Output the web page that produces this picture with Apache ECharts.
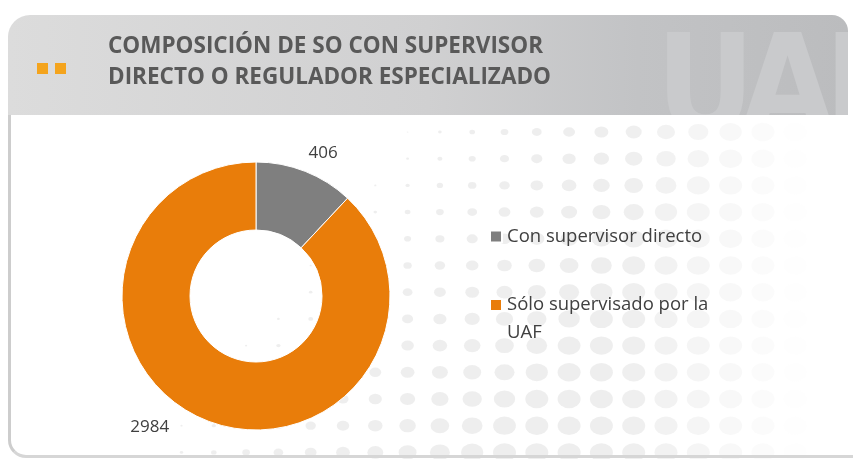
<!DOCTYPE html>
<html>
<head>
<meta charset="utf-8">
<script src="https://cdn.jsdelivr.net/npm/echarts@6/dist/echarts.min.js"></script>
<style>
  html, body { margin: 0; padding: 0; background: #fff; }
  .stage { position: relative; width: 853px; height: 459px; overflow: hidden; background: #fff; }
  .head {
    position: absolute; left: 8px; top: 15px; width: 840px; height: 100px;
    border-radius: 22px 16px 0 0; overflow: hidden;
    background: linear-gradient(to right, #dcdcdc 0%, #d0d0d1 50%, #c2c3c5 75%, #bbbcbe 100%);
  }
  .wm {
    position: absolute; left: 648px; top: 2px;
    font-family: "DejaVu Sans Condensed", "DejaVu Sans"; font-weight: bold;
    font-size: 135px; letter-spacing: -10px; color: #c9cacc; line-height: 1;
  }
  .box {
    position: absolute; left: 8px; top: 115px; width: 842px; height: 340px;
    border-left: 3px solid #cdcdcd; border-bottom: 3px solid #d6d6d6;
    border-radius: 0 0 0 18px;
  }
  .sq { position: absolute; top: 63px; width: 11px; height: 11px; background: #f4a41d; }
  #dots { position: absolute; left: 0; top: 0; }
  #main { position: absolute; left: 0; top: 0; width: 853px; height: 459px; }
</style>
</head>
<body>
<div class="stage">
  <canvas id="dots" width="853" height="459"></canvas>
  <div class="head"><div class="wm">UAF</div></div>
  <div class="box"></div>
  <div class="sq" style="left:37px"></div>
  <div class="sq" style="left:55px"></div>
  <div id="main"></div>
</div>
<script>
// datos
var titulo = "COMPOSICIÓN DE SO CON SUPERVISOR\nDIRECTO O REGULADOR ESPECIALIZADO";
var categorias = ["Con supervisor directo", "Sólo supervisado por la UAF"];
var valores = [406, 2984];
var colores = ["#7f7f7f", "#e97d0a"];

// fondo de puntos (decorativo)
(function () {
  var ctx = document.getElementById("dots").getContext("2d");
  for (var y = 132; y < 470; y += 26.7) {
    for (var x = 20; x < 853; x += 32.3) {
      var w = 0.064 * (x - 385 + 0.8 * (y - 130));
      if (w < 1.5) continue;
      if (w > 23) w = 23;
      var a = 1;
      if (x > 620) a = Math.max(0, 1 - (x - 620) / 190);
      if (a <= 0) continue;
      ctx.fillStyle = "rgba(226,226,226," + (0.6 * a) + ")";
      ctx.beginPath();
      ctx.ellipse(x, y, w / 2, w * 0.4, 0, 0, Math.PI * 2);
      ctx.fill();
    }
  }
})();

var myChart = echarts.init(document.getElementById("main"));
var option = {
  backgroundColor: "transparent",
  animation: false,
  title: {
    text: titulo,
    left: 103,
    top: 26,
    textStyle: {
      fontFamily: "Open Sans",
      fontSize: 22.5,
      fontWeight: "bold",
      color: "#595959",
      lineHeight: 31
    }
  },
  legend: [
    {
      data: [categorias[0]],
      left: 489,
      top: 223,
      padding: 0,
      icon: "rect",
      itemWidth: 12,
      itemHeight: 12,
      itemGap: 6,
      textStyle: { fontFamily: "Open Sans", fontSize: 18.5, color: "#404040", lineHeight: 27 }
    },
    {
      data: [categorias[1]],
      left: 489,
      top: 263,
      padding: 0,
      icon: "rect",
      itemWidth: 12,
      itemHeight: 12,
      itemGap: 6,
      // primera línea vacía para que el icono quede a la altura de la primera línea
      formatter: function (name) {
        return "\n" + name.replace(" UAF", "\nUAF");
      },
      textStyle: { fontFamily: "Open Sans", fontSize: 18.5, color: "#404040", lineHeight: 28 }
    }
  ],
  series: [
    {
      type: "pie",
      center: [256, 296],
      radius: [66, 134],
      startAngle: 90,
      clockwise: true,
      itemStyle: { borderColor: "#fff", borderWidth: 1 },
      label: {
        show: true,
        position: "outside",
        formatter: "{c}",
        fontFamily: "Open Sans",
        fontSize: 17,
        color: "#404040",
        distanceToLabelLine: 0
      },
      labelLine: { show: false },
      emphasis: { disabled: true },
      data: [
        {
          name: categorias[0], value: valores[0],
          itemStyle: { color: colores[0] },
          labelLine: { show: false, length: 20, length2: -4 }
        },
        {
          name: categorias[1], value: valores[1],
          itemStyle: { color: colores[1] },
          labelLine: { show: false, length: 7, length2: 35 }
        }
      ]
    }
  ]
};
myChart.setOption(option);
</script>
</body>
</html>
